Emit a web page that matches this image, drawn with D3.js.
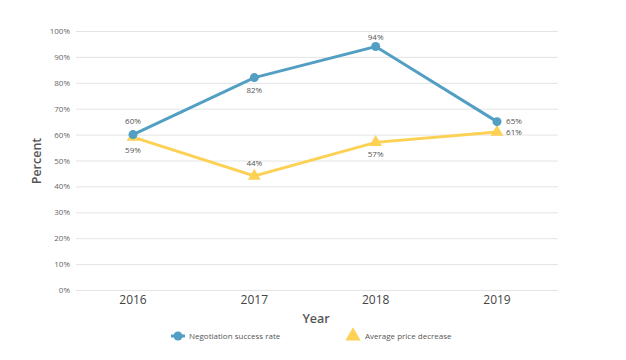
<!DOCTYPE html>
<html lang="en">
<head>
<meta charset="UTF-8">
<title>Negotiation chart</title>
<script src="https://d3js.org/d3.v7.min.js"></script>
<style>
  body { margin: 0; background: #fff; font-family: "Open Sans", sans-serif; }
  .grid line { stroke: #e4e4e4; stroke-width: 1; }
  .tick-y { font-size: 8px; fill: #666; }
  .tick-x { font-size: 12px; fill: #444; }
  .axis-title { font-size: 12.5px; font-weight: 600; fill: #555; }
  .pt-label { font-size: 8px; fill: #555; }
  .legend text { font-size: 8px; fill: #555; }
</style>
</head>
<body>
<div id="chart"></div>
<script>
  const years = ["2016", "2017", "2018", "2019"];
  const successRate = [60, 82, 94, 65];
  const priceDecrease = [59, 44, 57, 61];
  const yTicks = [0, 10, 20, 30, 40, 50, 60, 70, 80, 90, 100];

  const W = 626, H = 360;
  const svg = d3.select("#chart").append("svg").attr("width", W).attr("height", H);

  const x = d3.scalePoint().domain(years).range([133, 497]);
  const y = d3.scaleLinear().domain([0, 100]).range([290, 31]);

  // gridlines + y labels
  const g = svg.append("g").attr("class", "grid");
  g.selectAll("line").data(yTicks).enter().append("line")
    .attr("x1", 76).attr("x2", 558)
    .attr("y1", d => y(d) + 0.5).attr("y2", d => y(d) + 0.5);
  svg.selectAll(".tick-y").data(yTicks).enter().append("text")
    .attr("class", "tick-y")
    .attr("x", 70).attr("y", d => y(d) + 3)
    .attr("text-anchor", "end")
    .text(d => d + "%");

  // x labels
  svg.selectAll(".tick-x").data(years).enter().append("text")
    .attr("class", "tick-x")
    .attr("x", d => x(d)).attr("y", 304)
    .attr("text-anchor", "middle")
    .text(d => d);

  svg.append("text").attr("class", "axis-title")
    .attr("x", 316).attr("y", 323).attr("text-anchor", "middle").text("Year");
  svg.append("text").attr("class", "axis-title")
    .attr("transform", "translate(41,161) rotate(-90)")
    .attr("text-anchor", "middle").text("Percent");

  const blue = "#529fc3", yellow = "#fdd154";
  const line = d3.line().x((d, i) => x(years[i])).y(d => y(d));

  svg.append("path").datum(priceDecrease).attr("d", line)
    .attr("fill", "none").attr("stroke", yellow).attr("stroke-width", 3);
  svg.append("path").datum(successRate).attr("d", line)
    .attr("fill", "none").attr("stroke", blue).attr("stroke-width", 3);

  const tri = d3.symbol().type(d3.symbolTriangle).size(70);
  svg.selectAll(".tri").data(priceDecrease).enter().append("path")
    .attr("d", tri)
    .attr("transform", (d, i) => `translate(${x(years[i])},${y(d)})`)
    .attr("fill", yellow);
  svg.selectAll(".dot").data(successRate).enter().append("circle")
    .attr("cx", (d, i) => x(years[i])).attr("cy", d => y(d))
    .attr("r", 4.5).attr("fill", blue);

  // point labels
  const blueDy = [-14, 12, -10, -1];
  const blueDx = [0, 0, 0, 17];
  svg.selectAll(".lb").data(successRate).enter().append("text")
    .attr("class", "pt-label")
    .attr("x", (d, i) => x(years[i]) + blueDx[i])
    .attr("y", (d, i) => y(d) + blueDy[i] + 3)
    .attr("text-anchor", "middle")
    .text(d => d + "%");
  const yelDy = [13, -13, 12, 0];
  const yelDx = [0, 0, 0, 17];
  svg.selectAll(".ly").data(priceDecrease).enter().append("text")
    .attr("class", "pt-label")
    .attr("x", (d, i) => x(years[i]) + yelDx[i])
    .attr("y", (d, i) => y(d) + yelDy[i] + 3)
    .attr("text-anchor", "middle")
    .text(d => d + "%");

  // legend
  const lg = svg.append("g").attr("class", "legend");
  lg.append("line").attr("x1", 171).attr("x2", 185).attr("y1", 336).attr("y2", 336)
    .attr("stroke", blue).attr("stroke-width", 3);
  lg.append("circle").attr("cx", 178).attr("cy", 336).attr("r", 4.5).attr("fill", blue);
  lg.append("text").attr("x", 189).attr("y", 339).text("Negotiation success rate");
  lg.append("path").attr("d", d3.symbol().type(d3.symbolTriangle).size(100))
    .attr("transform", "translate(353,336)").attr("fill", yellow);
  lg.append("text").attr("x", 365).attr("y", 339).text("Average price decrease");
</script>
</body>
</html>
